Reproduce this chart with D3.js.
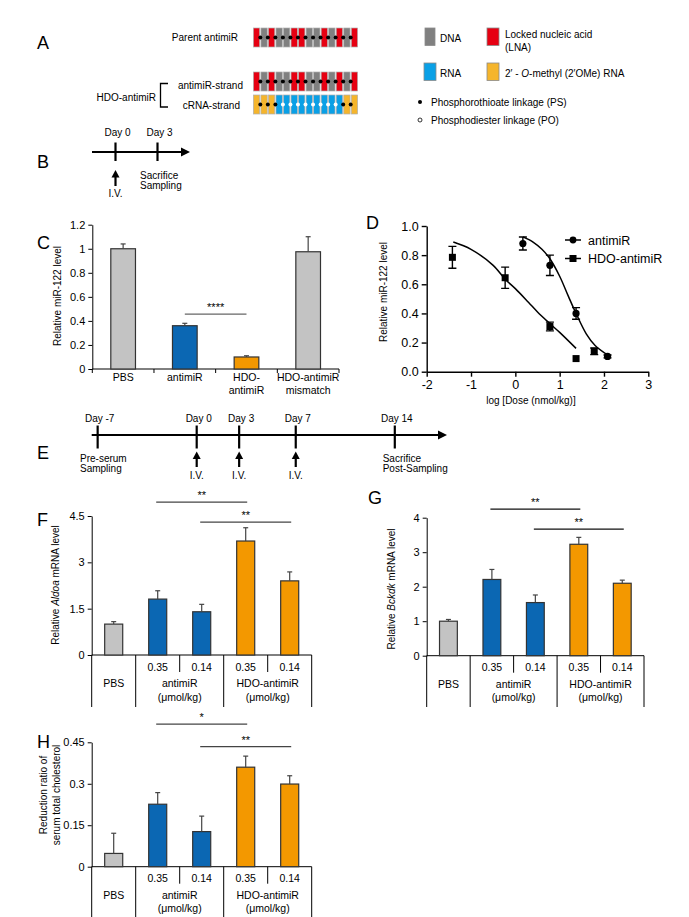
<!DOCTYPE html>
<html><head><meta charset="utf-8">
<script src="https://cdn.jsdelivr.net/npm/d3@7"></script>
<style>
body{margin:0;background:#fff}
svg{display:block}
text{font-family:"Liberation Sans",Arial,Helvetica,sans-serif;fill:#000}
</style>
</head><body>
<svg id="fig" width="689" height="917"></svg>
<script>
// ---------------- DATA ----------------
// Panel A: oligonucleotide chemistry
const parentStrand  = ["LNA","DNA","LNA","DNA","DNA","LNA","LNA","DNA","DNA","LNA","DNA","LNA","DNA","LNA"];
const parentLinks   = ["PS","PS","PS","PS","PS","PS","PS","PS","PS","PS","PS","PS","PS"];
const antimiRStrand = ["LNA","DNA","LNA","DNA","DNA","LNA","LNA","DNA","DNA","LNA","DNA","LNA","DNA","LNA"];
const antimiRLinks  = ["PS","PS","PS","PS","PS","PS","PS","PS","PS","PS","PS","PS","PS"];
const cRNAStrand    = ["OMe","OMe","OMe","RNA","RNA","RNA","RNA","RNA","RNA","RNA","RNA","RNA","OMe","OMe"];
const cRNALinks     = ["PS","PS","PS","PO","PO","PO","PO","PO","PO","PO","PO","PS","PS"];

// Panel B / E timelines
const bDays = [0, 3];
const bIVDays = [0];
const eDays = [-7, 0, 3, 7, 14];
const eIVDays = [0, 3, 7];

// Panel C
const cCats   = ["PBS", "antimiR", "HDO-antimiR", "HDO-antimiR mismatch"];
const cLabels = [["PBS"], ["antimiR"], ["HDO-", "antimiR"], ["HDO-antimiR", "mismatch"]];
const cGroups = ["PBS", "antimiR", "HDO", "PBS"];
const cValues = [1.00, 0.36, 0.10, 0.975];
const cErrors = [0.04, 0.02, 0.01, 0.125];
const cTicks  = [0, 0.2, 0.4, 0.6, 0.8, 1, 1.2];
const cSig    = [["antimiR", "HDO-antimiR", "****"]];

// Panel D
const dAntimiRLogDose = [0.17, 0.78, 1.37, 2.08];
const dAntimiRLevel   = [0.88, 0.73, 0.40, 0.105];
const dAntimiRErr     = [0.045, 0.07, 0.04, 0.01];
const dHdoLogDose     = [-1.42, -0.23, 0.78, 1.37, 1.78];
const dHdoLevel       = [0.785, 0.645, 0.31, 0.09, 0.14];
const dHdoErr         = [0.075, 0.073, 0.03, 0, 0.023];
const dAntimiRFitX    = [0.17, 0.40, 0.60, 0.78, 1.00, 1.20, 1.37, 1.60, 1.80, 2.08];
const dAntimiRFitY    = [0.925, 0.89, 0.84, 0.775, 0.655, 0.515, 0.40, 0.26, 0.18, 0.115];
const dHdoFitX        = [-1.40, -1.00, -0.50, -0.23, 0.00, 0.30, 0.50, 0.78, 1.00, 1.37];
const dHdoFitY        = [0.89, 0.84, 0.73, 0.635, 0.57, 0.475, 0.41, 0.33, 0.27, 0.16];
const dXTicks = [-2, -1, 0, 1, 2, 3];
const dYTicks = [0, 0.2, 0.4, 0.6, 0.8, 1.0];

// Panels F, G, H (shared categories)
const barCats    = ["PBS", "antimiR 0.35", "antimiR 0.14", "HDO 0.35", "HDO 0.14"];
const barGroups  = ["PBS", "antimiR", "antimiR", "HDO", "HDO"];
const doseLabels = ["", "0.35", "0.14", "0.35", "0.14"];
const tableGroupNames = ["PBS", "antimiR", "HDO-antimiR"];
const tableGroupUnits = ["", "(\u03bcmol/kg)", "(\u03bcmol/kg)"];
const tableGroupFirst = [0, 1, 3];
const tableGroupLast  = [0, 2, 4];

const fValues = [1.00, 1.81, 1.40, 3.69, 2.40];
const fErrors = [0.08, 0.27, 0.24, 0.43, 0.29];
const fTicks  = [0, 1.5, 3, 4.5];
const fSig    = [[1, 3, "**"], [2, 4, "**"]];

const gValues = [1.00, 2.21, 1.54, 3.23, 2.10];
const gErrors = [0.05, 0.29, 0.22, 0.20, 0.09];
const gTicks  = [0, 1, 2, 3, 4];
const gSig    = [[1, 3, "**"], [2, 4, "**"]];

const hValues = [0.048, 0.226, 0.127, 0.360, 0.299];
const hErrors = [0.073, 0.042, 0.056, 0.040, 0.030];
const hTicks  = [0, 0.15, 0.3, 0.45];
const hSig    = [[1, 3, "*"], [2, 4, "**"]];

// ---------------- STYLE ----------------
const strandColor = {LNA:"#e60012", DNA:"#808080", RNA:"#0aa0e6", OMe:"#f5b52c"};
const groupColor  = {PBS:"#c3c3c3", antimiR:"#0b67b3", HDO:"#f39800"};

const svg = d3.select("#fig");

function txt(g, x, y, s, size, anchor) {
  return g.append("text").attr("x", x).attr("y", y)
    .attr("font-size", size || 10.5).attr("text-anchor", anchor || "start").text(s);
}
function letter(x, y, s) { txt(svg, x, y, s, 18); }

// ---------------- PANEL A ----------------
(function () {
  const g = svg.append("g");
  letter(37, 49, "A");
  function strand(types, links, yTop) {
    const xs = d3.scaleBand(d3.range(types.length), [253, 358]).paddingInner(0.16).paddingOuter(0.05);
    const h = 19;
    g.append("g").selectAll("rect").data(types).join("rect")
      .attr("x", (d, i) => xs(i)).attr("y", yTop).attr("width", xs.bandwidth()).attr("height", h)
      .attr("fill", d => strandColor[d]).attr("stroke", "#b0b0b0").attr("stroke-width", 0.7);
    g.append("g").selectAll("circle").data(links).join("circle")
      .attr("cx", (d, i) => xs(i) + xs.bandwidth() + (xs.step() - xs.bandwidth()) / 2)
      .attr("cy", yTop + h / 2).attr("r", 2)
      .attr("fill", d => d === "PS" ? "#000" : "#fff");
  }
  strand(parentStrand, parentLinks, 28);
  strand(antimiRStrand, antimiRLinks, 72);
  strand(cRNAStrand, cRNALinks, 95);
  txt(g, 238, 41, "Parent antimiR", 10, "end");
  txt(g, 243, 89, "antimiR-strand", 10, "end");
  txt(g, 240, 109, "cRNA-strand", 10, "end");
  txt(g, 156, 101, "HDO-antimiR", 10, "end");
  g.append("path").attr("d", "M168,83.5H160.5V107H168").attr("fill", "none").attr("stroke", "#000").attr("stroke-width", 1.3);

  // legend
  const leg = [["DNA", 425, 28], ["LNA", 487, 28], ["RNA", 424, 63], ["OMe", 487, 63]];
  g.selectAll(".lg").data(leg).join("rect")
    .attr("x", d => d[1]).attr("y", d => d[2]).attr("width", d => d[0] === "DNA" ? 10 : 12).attr("height", 17.5)
    .attr("fill", d => strandColor[d[0]]).attr("stroke", "#8a8a8a").attr("stroke-width", 0.8);
  txt(g, 440, 42, "DNA", 10);
  txt(g, 505, 38, "Locked nucleic acid", 10);
  txt(g, 505, 51, "(LNA)", 10);
  txt(g, 440, 77, "RNA", 10);
  const om = txt(g, 505, 77, "2\u2032 - ", 10);
  om.append("tspan").attr("font-style", "italic").text("O");
  om.append("tspan").text("-methyl (2\u2032OMe) RNA");
  g.append("circle").attr("cx", 420).attr("cy", 102).attr("r", 2).attr("fill", "#000");
  txt(g, 431, 105.5, "Phosphorothioate linkage (PS)", 10);
  g.append("circle").attr("cx", 420).attr("cy", 120).attr("r", 2).attr("fill", "#fff").attr("stroke", "#000").attr("stroke-width", 0.8);
  txt(g, 431, 123.5, "Phosphodiester linkage (PO)", 10);
})();

// ---------------- TIMELINES ----------------
function timeline(days, ivDays, scale, y, xStart, xTip, tickTop, tickBot, dayY, ivTop, ivBot, ivY) {
  const g = svg.append("g");
  g.append("line").attr("x1", xStart).attr("x2", xTip - 6).attr("y1", y).attr("y2", y)
    .attr("stroke", "#000").attr("stroke-width", 2.2);
  g.append("path").attr("d", `M${xTip},${y}L${xTip - 9},${y - 4.5}L${xTip - 9},${y + 4.5}Z`).attr("fill", "#000");
  g.selectAll(".tk").data(days).join("line")
    .attr("x1", d => scale(d)).attr("x2", d => scale(d)).attr("y1", tickTop).attr("y2", tickBot)
    .attr("stroke", "#000").attr("stroke-width", 2.2);
  g.selectAll(".dl").data(days).join("text")
    .attr("x", d => scale(d) + 2).attr("y", dayY).attr("font-size", 10).attr("text-anchor", "middle")
    .text(d => "Day " + d);
  ivDays.forEach(d => {
    const x = scale(d);
    g.append("line").attr("x1", x).attr("x2", x).attr("y1", ivBot).attr("y2", ivTop + 6)
      .attr("stroke", "#000").attr("stroke-width", 2.2);
    g.append("path").attr("d", `M${x},${ivTop}L${x - 4},${ivTop + 7.5}L${x + 4},${ivTop + 7.5}Z`).attr("fill", "#000");
    txt(g, x, ivY, "I.V.", 10, "middle");
  });
  return g;
}
letter(37, 168, "B");
const gB = timeline(bDays, bIVDays, d3.scaleLinear([0, 3], [115.5, 157.5]), 152, 92, 190, 142.5, 161, 135.5, 170, 186, 197);
txt(gB, 140, 178.5, "Sacrifice", 10);
txt(gB, 140, 188.5, "Sampling", 10);

letter(37, 459, "E");
const gE = timeline(eDays, eIVDays, d3.scaleLinear([0, 14], [196.7, 394.8]), 435, 91.7, 447, 425.5, 448.5, 422, 451.5, 467, 479);
txt(gE, 80, 462, "Pre-serum", 10);
txt(gE, 80, 472, "Sampling", 10);
txt(gE, 382.7, 462, "Sacrifice", 10);
txt(gE, 382.7, 472, "Post-Sampling", 10);

// ---------------- helpers for bars ----------------
function styleAxis(sel, size) {
  sel.select(".domain").attr("stroke", "#000").attr("stroke-width", 1);
  sel.selectAll(".tick line").attr("stroke", "#000");
  sel.selectAll(".tick text").attr("font-size", size || 11)
    .attr("font-family", '"Liberation Sans",Arial,sans-serif').attr("fill", "#000");
}
function drawBars(g, x, y, cats, groups, values, errors) {
  g.append("g").selectAll("rect").data(cats).join("rect")
    .attr("x", d => x(d)).attr("width", x.bandwidth())
    .attr("y", (d, i) => y(values[i])).attr("height", (d, i) => y(0) - y(values[i]))
    .attr("fill", (d, i) => groupColor[groups[i]]).attr("stroke", "#333").attr("stroke-width", 1.2);
  const eb = g.append("g").attr("stroke", "#444").attr("stroke-width", 1.2);
  cats.forEach((c, i) => {
    const cx = x(c) + x.bandwidth() / 2;
    if (errors[i] <= 0) return;
    eb.append("line").attr("x1", cx).attr("x2", cx).attr("y1", y(values[i])).attr("y2", y(values[i] + errors[i]));
    eb.append("line").attr("x1", cx - 2.5).attr("x2", cx + 2.5).attr("y1", y(values[i] + errors[i])).attr("y2", y(values[i] + errors[i]));
  });
}
function sigLine(g, x1, x2, yy, label, color) {
  g.append("line").attr("x1", x1).attr("x2", x2).attr("y1", yy).attr("y2", yy)
    .attr("stroke", color || "#444").attr("stroke-width", 1.2);
  txt(g, (x1 + x2) / 2, yy - 3, label, 11, "middle");
}

// ---------------- PANEL C ----------------
(function () {
  const g = svg.append("g");
  letter(37, 249, "C");
  const x = d3.scaleBand(cCats, [92.3, 339]).paddingInner(0.6).paddingOuter(0.3);
  const y = d3.scaleLinear([0, 1.2], [369, 224.7]);
  g.append("g").attr("transform", "translate(92.3,0)")
    .call(d3.axisLeft(y).tickValues(cTicks).tickSize(4).tickSizeOuter(0).tickFormat(d3.format("~g")))
    .call(s => styleAxis(s, 11));
  g.append("line").attr("x1", 92.3).attr("x2", 339).attr("y1", 369).attr("y2", 369).attr("stroke", "#000");
  const step = x.step();
  d3.range(cCats.length + 1).forEach(i => {
    const bx = 92.3 + i * step;
    g.append("line").attr("x1", bx).attr("x2", bx).attr("y1", 369).attr("y2", 373).attr("stroke", "#000");
  });
  drawBars(g, x, y, cCats, cGroups, cValues, cErrors);
  cLabels.forEach((lines, i) => {
    const cx = x(cCats[i]) + x.bandwidth() / 2;
    lines.forEach((l, j) => txt(g, cx, 381 + j * 13, l, 10.5, "middle"));
  });
  cSig.forEach(s => {
    const x1 = x(s[0]) + x.bandwidth() / 2, x2 = x(s[1]) + x.bandwidth() / 2;
    sigLine(g, x1, x2, y(0.457), s[2], "#666");
  });
  g.append("text").attr("transform", "translate(61,296) rotate(-90)").attr("text-anchor", "middle")
    .attr("font-size", 10).text("Relative miR-122 level");
})();

// ---------------- PANEL D ----------------
(function () {
  const g = svg.append("g");
  letter(366, 229, "D");
  const x = d3.scaleLinear([-2, 3], [426.7, 648.3]);
  const y = d3.scaleLinear([0, 1], [371.7, 226]);
  g.append("g").attr("transform", "translate(426.7,0)")
    .call(d3.axisLeft(y).tickValues(dYTicks).tickSize(5).tickSizeOuter(0).tickFormat(d3.format(".1f")))
    .call(s => styleAxis(s, 12.5)).call(s => s.selectAll("path,line").attr("stroke-width", 1.4));
  g.append("g").attr("transform", "translate(0,371.7)")
    .call(d3.axisBottom(x).tickValues(dXTicks).tickSize(5).tickSizeOuter(0).tickFormat(d => String(d)))
    .call(s => styleAxis(s, 12.5)).call(s => s.selectAll("path,line").attr("stroke-width", 1.4));
  const line = d3.line().x(d => x(d[0])).y(d => y(d[1])).curve(d3.curveCatmullRom.alpha(0.5));
  g.append("path").attr("d", line(d3.zip(dAntimiRFitX, dAntimiRFitY))).attr("fill", "none").attr("stroke", "#000").attr("stroke-width", 1.5);
  g.append("path").attr("d", line(d3.zip(dHdoFitX, dHdoFitY))).attr("fill", "none").attr("stroke", "#000").attr("stroke-width", 1.5);
  function errs(xs, ys, es) {
    xs.forEach((xv, i) => {
      if (es[i] <= 0) return;
      const cx = x(xv), t = y(ys[i] + es[i]), b = y(ys[i] - es[i]);
      g.append("path").attr("d", `M${cx},${t}V${b}M${cx - 4},${t}H${cx + 4}M${cx - 4},${b}H${cx + 4}`)
        .attr("stroke", "#000").attr("stroke-width", 1.4).attr("fill", "none");
    });
  }
  errs(dAntimiRLogDose, dAntimiRLevel, dAntimiRErr);
  errs(dHdoLogDose, dHdoLevel, dHdoErr);
  g.selectAll(".pc").data(dAntimiRLogDose).join("circle")
    .attr("cx", d => x(d)).attr("cy", (d, i) => y(dAntimiRLevel[i])).attr("r", 3.6).attr("fill", "#000");
  g.selectAll(".ps").data(dHdoLogDose).join("rect")
    .attr("x", d => x(d) - 3.5).attr("y", (d, i) => y(dHdoLevel[i]) - 3.5).attr("width", 7).attr("height", 7).attr("fill", "#000");
  // legend
  g.append("line").attr("x1", 565).attr("x2", 581).attr("y1", 240).attr("y2", 240).attr("stroke", "#000").attr("stroke-width", 1.5);
  g.append("circle").attr("cx", 573).attr("cy", 240).attr("r", 3.4).attr("fill", "#000");
  txt(g, 588, 244.5, "antimiR", 12.5);
  g.append("line").attr("x1", 565).attr("x2", 581).attr("y1", 258.5).attr("y2", 258.5).attr("stroke", "#000").attr("stroke-width", 1.5);
  g.append("rect").attr("x", 569.5).attr("y", 255).attr("width", 7).attr("height", 7).attr("fill", "#000");
  txt(g, 588, 263, "HDO-antimiR", 12.5);
  g.append("text").attr("transform", "translate(387,292) rotate(-90)").attr("text-anchor", "middle")
    .attr("font-size", 10).text("Relative miR-122 level");
  txt(g, 531, 404, "log [Dose (nmol/kg)]", 10, "middle");
})();

// ---------------- PANELS F, G, H ----------------
function barPanel(cfg) {
  const g = svg.append("g");
  const x = d3.scaleBand(barCats, [cfg.x0, cfg.x1]).paddingInner(0.59).paddingOuter(0.295);
  const y = d3.scaleLinear([0, cfg.ymax], [cfg.y0, cfg.yTop]);
  g.append("g").attr("transform", `translate(${cfg.x0},0)`)
    .call(d3.axisLeft(y).tickValues(cfg.ticks).tickSize(4).tickSizeOuter(0).tickFormat(d3.format("~g")))
    .call(s => styleAxis(s, 11));
  g.append("line").attr("x1", cfg.x0).attr("x2", cfg.x1).attr("y1", cfg.y0).attr("y2", cfg.y0).attr("stroke", "#000");
  drawBars(g, x, y, barCats, barGroups, cfg.values, cfg.errors);
  const step = x.step();
  const edge = i => cfg.x0 + i * step;
  // table
  tableGroupFirst.forEach((f, k) => {
    g.append("line").attr("x1", edge(f)).attr("x2", edge(f)).attr("y1", cfg.y0).attr("y2", cfg.tableBottom).attr("stroke", "#000");
    const last = tableGroupLast[k];
    const cx = (edge(f) + edge(last + 1)) / 2;
    txt(g, cx, cfg.y0 + 32, tableGroupNames[k], 10.5, "middle");
    if (tableGroupUnits[k]) txt(g, cx, cfg.y0 + 45.5, tableGroupUnits[k], 10.5, "middle");
    for (let i = f + 1; i <= last; i++) {
      g.append("line").attr("x1", edge(i)).attr("x2", edge(i)).attr("y1", cfg.y0).attr("y2", cfg.y0 + 17).attr("stroke", "#000");
    }
  });
  g.append("line").attr("x1", cfg.x1).attr("x2", cfg.x1).attr("y1", cfg.y0).attr("y2", cfg.tableBottom).attr("stroke", "#000");
  barCats.forEach((c, i) => {
    if (doseLabels[i]) txt(g, x(c) + x.bandwidth() / 2, cfg.y0 + 15.5, doseLabels[i], 10.5, "middle");
  });
  cfg.sig.forEach((s, k) => {
    const x1 = x(barCats[s[0]]) + x.bandwidth() / 2 - 1.5, x2 = x(barCats[s[1]]) + x.bandwidth() / 2 + 1.5;
    sigLine(g, x1, x2, y(cfg.sigLevels[k]), s[2], cfg.sigColor);
  });
  const yl = g.append("text").attr("transform", `translate(${cfg.labelX},${cfg.labelY}) rotate(-90)`)
    .attr("text-anchor", "middle").attr("font-size", 10);
  cfg.label(yl);
  return g;
}

letter(37, 526, "F");
barPanel({
  x0: 91.7, x1: 311.7, y0: 655, yTop: 516, ymax: 4.5, ticks: fTicks,
  values: fValues, errors: fErrors, sig: fSig, sigLevels: [4.95, 4.30], sigColor: "#444",
  tableBottom: 707, labelX: 59, labelY: 585,
  label: t => { t.append("tspan").text("Relative "); t.append("tspan").attr("font-style", "italic").text("Aldoa"); t.append("tspan").text(" mRNA level"); }
});

letter(368, 504, "G");
barPanel({
  x0: 426.7, x1: 644, y0: 655.7, yTop: 517.7, ymax: 4, ticks: gTicks,
  values: gValues, errors: gErrors, sig: gSig, sigLevels: [4.25, 3.67], sigColor: "#111",
  tableBottom: 707, labelX: 395, labelY: 589,
  label: t => { t.append("tspan").text("Relative "); t.append("tspan").attr("font-style", "italic").text("Bckdk"); t.append("tspan").text(" mRNA level"); }
});

letter(37, 748, "H");
barPanel({
  x0: 91.7, x1: 311.7, y0: 866.7, yTop: 742.3, ymax: 0.45, ticks: hTicks,
  values: hValues, errors: hErrors, sig: hSig, sigLevels: [0.516, 0.434], sigColor: "#444",
  tableBottom: 917, labelX: 47, labelY: 795,
  label: t => {
    t.append("tspan").attr("x", 0).attr("dy", 0).text("Reduction ratio of");
    t.append("tspan").attr("x", 0).attr("dy", 12.5).text("serum total cholesterol");
  }
});
</script>
</body></html>
